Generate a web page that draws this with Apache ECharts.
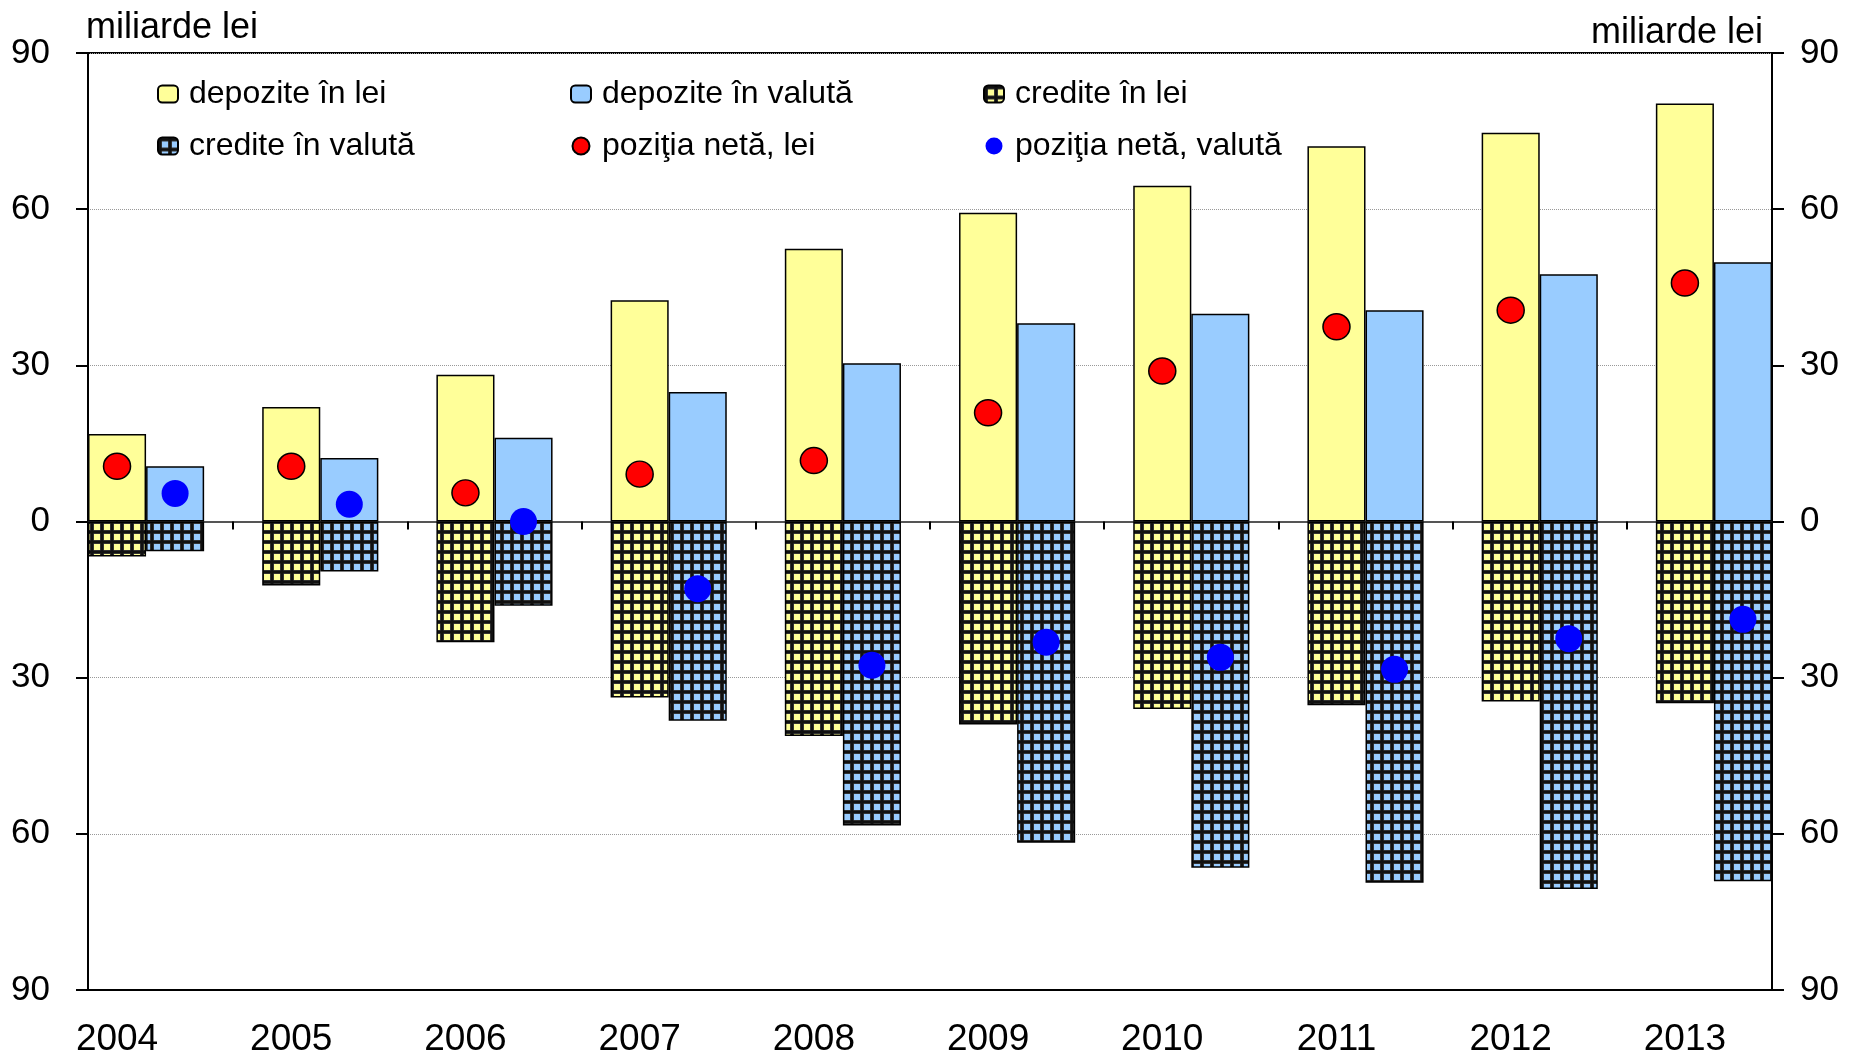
<!DOCTYPE html>
<html>
<head>
<meta charset="utf-8">
<script src="https://cdn.jsdelivr.net/npm/echarts@6/dist/echarts.min.js"></script>
<style>
html,body{margin:0;padding:0;background:#fff;}
#chart{width:1849px;height:1054px;}
</style>
</head>
<body>
<div id="chart"></div>
<script>
const years = ['2004','2005','2006','2007','2008','2009','2010','2011','2012','2013'];
const depLei  = [16.8, 22.0, 28.2, 42.5, 52.4, 59.3, 64.5, 72.1, 74.7, 80.3];
const depVal  = [10.6, 12.2, 16.1, 24.9, 30.4, 38.1, 39.9, 40.6, 47.5, 49.8];
const credLei = [-6.7, -12.3, -23.2, -33.8, -41.2, -39.0, -36.0, -35.3, -34.6, -34.9];
const credVal = [-5.7, -9.6, -16.2, -38.3, -58.4, -61.7, -66.5, -69.4, -70.6, -69.1];
const netLei  = [10.6, 10.6, 5.5, 9.1, 11.7, 20.9, 28.9, 37.4, 40.6, 45.8];
const netVal  = [5.4, 3.3, 0.0, -12.9, -27.6, -23.2, -26.1, -28.4, -22.5, -18.8];
const seriesNames = ['depozite în lei','depozite în valută','credite în lei','credite în valută','poziţia netă, lei','poziţia netă, valută'];

// slot layout: per year -> lei slot, valuta slot, empty slot (none after last year)
const slots = [];
years.forEach((y, i) => {
  slots.push(y, y + '_v');
  if (i < years.length - 1) slots.push(y + '_g');
});
function toSlots(arr, offset) {
  const out = slots.map(() => '-');
  arr.forEach((v, i) => { out[i * 3 + offset] = v; });
  return out;
}
function makePattern(bg) {
  const c = document.createElement('canvas');
  c.width = 10; c.height = 10;
  const g = c.getContext('2d');
  g.fillStyle = bg; g.fillRect(0, 0, 10, 10);
  g.fillStyle = '#555';
  g.fillRect(0, 0, 10, 4);
  g.fillRect(0, 0, 4, 10);
  g.fillStyle = '#111';
  g.fillRect(0, 0.5, 10, 3);
  g.fillRect(0.5, 0, 3, 10);
  return c;
}
const FONT = 'Liberation Sans, Arial, sans-serif';
const YELLOW = '#FFFF99', BLUE = '#99CCFF';

const chart = echarts.init(document.getElementById('chart'), null, {renderer: 'canvas'});
const legendCommon = {
  orient: 'vertical', top: 78, itemGap: 20, padding: 0,
  itemWidth: 20, itemHeight: 17, selectedMode: false,
  textStyle: {fontSize: 32, fontFamily: FONT, color: '#000', lineHeight: 32, padding: [0, 0, 0, 6]}
};
const yCommon = {
  type: 'value', min: -90, max: 90, interval: 30,
  axisLine: {show: true, lineStyle: {color: '#000', width: 2}},
  axisTick: {show: true, length: 12, lineStyle: {color: '#000', width: 2}},
  name: 'miliarde lei', nameLocation: 'end'
};
chart.setOption({
  animation: false,
  backgroundColor: '#fff',
  grid: {left: 88, right: 77, top: 53, bottom: 64, show: true, borderColor: '#000', borderWidth: 2,
         containLabel: false, outerBoundsMode: 'none'},
  legend: [
    Object.assign({left: 157, data: [seriesNames[0], seriesNames[3]]}, legendCommon),
    Object.assign({left: 570, data: [seriesNames[1], seriesNames[4]]}, legendCommon),
    Object.assign({left: 983, data: [seriesNames[2], seriesNames[5]]}, legendCommon)
  ],
  xAxis: [
    {
      type: 'category', data: slots, position: 'bottom',
      axisLine: {onZero: false, show: true, lineStyle: {color: '#000', width: 2}},
      axisTick: {show: false},
      axisLabel: {interval: 0, formatter: v => (years.indexOf(v) >= 0 ? v : ''), fontSize: 37, margin: 31, color: '#000', fontFamily: FONT},
      splitLine: {show: false}
    },
    {
      type: 'category', data: slots, position: 'top',
      axisLine: {onZero: true, show: true, lineStyle: {color: '#555', width: 2}},
      axisTick: {show: true, inside: true, alignWithLabel: true, interval: 0, length: 8, lineStyle: {color: '#000', width: 2}},
      axisLabel: {show: false},
      splitLine: {show: false}
    }
  ],
  yAxis: [
    Object.assign({}, yCommon, {
      position: 'left',
      axisLabel: {formatter: v => String(Math.abs(v)), fontSize: 35, color: '#000', margin: 38, fontFamily: FONT},
      splitLine: {show: true, lineStyle: {color: '#999', type: 'dotted', width: 1}},
      nameGap: 7,
      nameTextStyle: {align: 'left', verticalAlign: 'bottom', fontSize: 36, color: '#000', fontFamily: FONT, padding: [0, 0, 0, -2]}
    }),
    Object.assign({}, yCommon, {
      position: 'right',
      axisLabel: {formatter: v => String(Math.abs(v)), fontSize: 35, color: '#000', margin: 28, fontFamily: FONT},
      splitLine: {show: false},
      nameGap: 2,
      nameTextStyle: {align: 'right', verticalAlign: 'bottom', fontSize: 36, color: '#000', fontFamily: FONT, padding: [0, 9, 0, 0]}
    })
  ],
  series: [
    {name: seriesNames[0], type: 'bar', data: toSlots(depLei, 0), barWidth: '100%', barGap: '-100%',
     itemStyle: {color: YELLOW, borderColor: '#000', borderWidth: 1.5}},
    {name: seriesNames[1], type: 'bar', data: toSlots(depVal, 1), barWidth: '100%', barGap: '-100%',
     itemStyle: {color: BLUE, borderColor: '#000', borderWidth: 1.5}},
    {name: seriesNames[2], type: 'bar', data: toSlots(credLei, 0), barWidth: '100%', barGap: '-100%',
     itemStyle: {color: {image: makePattern(YELLOW), repeat: 'repeat'}, borderColor: '#000', borderWidth: 1.5}},
    {name: seriesNames[3], type: 'bar', data: toSlots(credVal, 1), barWidth: '100%', barGap: '-100%',
     itemStyle: {color: {image: makePattern(BLUE), repeat: 'repeat'}, borderColor: '#000', borderWidth: 1.5}},
    {name: seriesNames[4], type: 'scatter', data: toSlots(netLei, 0), symbol: 'circle', symbolSize: [27, 26], z: 5,
     itemStyle: {color: '#FF0000', borderColor: '#000', borderWidth: 1.5, opacity: 1}},
    {name: seriesNames[5], type: 'scatter', data: toSlots(netVal, 1), symbol: 'circle', symbolSize: 27, z: 5,
     itemStyle: {color: '#0000FF', opacity: 1}}
  ]
});
</script>
</body>
</html>
